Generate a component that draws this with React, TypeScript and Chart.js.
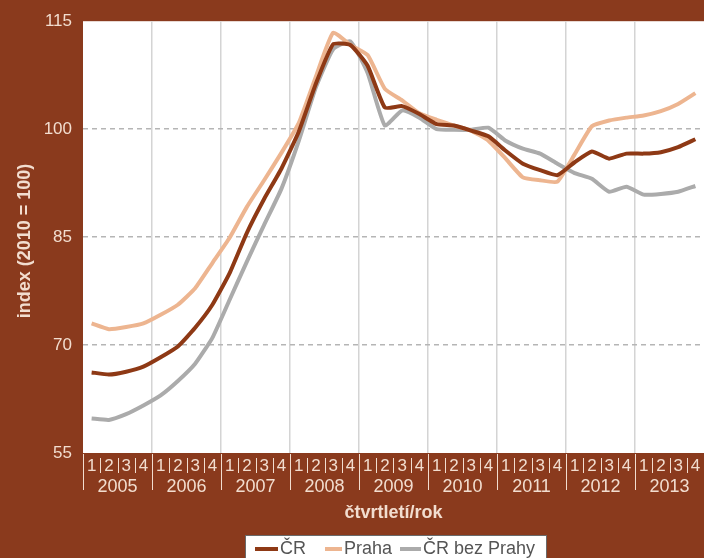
import React, { useEffect, useRef } from 'react';
import { Chart, registerables } from 'chart.js';

Chart.register(...registerables);

const years = ['2005', '2006', '2007', '2008', '2009', '2010', '2011', '2012', '2013'];
const quarters = ['1', '2', '3', '4'];
const categories = years.flatMap(() => quarters);

const yTicks = [55, 70, 85, 100, 115];

const cr = [
  66.2, 65.9, 66.3, 67.0,
  68.3, 69.8, 72.4, 75.6,
  80.0, 85.6, 90.3, 94.5,
  99.6, 106.3, 111.8, 111.7,
  108.8, 103.0, 103.2, 102.1,
  100.7, 100.5, 99.8, 99.0,
  97.0, 95.2, 94.3, 93.6,
  95.4, 96.9, 95.9, 96.6,
  96.6, 96.8, 97.5, 98.6,
];
const praha = [
  73.0, 72.2, 72.5, 73.0,
  74.2, 75.6, 77.9, 81.4,
  84.9, 89.2, 92.9, 96.7,
  100.8, 107.3, 113.4, 111.7,
  110.3, 105.6, 104.0, 102.2,
  101.3, 100.5, 99.8, 98.4,
  95.9, 93.3, 92.9, 92.7,
  96.5, 100.4, 101.2, 101.6,
  101.9, 102.5, 103.5, 105.0,
];
const crBezPrahy = [
  59.8, 59.6, 60.4, 61.6,
  63.0, 65.0, 67.4, 71.0,
  76.3, 81.6, 86.7, 91.7,
  98.3, 105.8, 111.1, 112.2,
  107.8, 100.5, 102.6, 101.6,
  100.0, 99.9, 99.9, 100.2,
  98.4, 97.3, 96.6, 95.2,
  93.9, 93.1, 91.3, 92.0,
  90.9, 91.0, 91.3, 92.1,
];

const seriesNames = ['ČR', 'Praha', 'ČR bez Prahy'];
const seriesColors = ['#8E3915', '#EDB590', '#ABABAB'];

const BG = '#8A3A1D';
const TXT = '#F2DDCF';
const FONT = '"Liberation Sans", Arial, sans-serif';

const decor = {
  id: 'decor',
  beforeDraw(chart: any) {
    const { ctx, chartArea: a, width, height } = chart;
    ctx.save();
    ctx.fillStyle = BG;
    ctx.fillRect(0, 0, width, height);
    ctx.fillStyle = '#ffffff';
    ctx.fillRect(a.left, a.top, a.right - a.left, a.bottom - a.top);
    ctx.restore();
  },
  afterDraw(chart: any) {
    const { ctx, chartArea: a } = chart;
    const xs = chart.scales.x;
    const n = categories.length;
    const step = xs.getPixelForValue(1) - xs.getPixelForValue(0);
    ctx.save();
    // separators
    ctx.strokeStyle = TXT;
    ctx.lineWidth = 1;
    for (let i = 0; i <= n; i++) {
      const bx = Math.round(xs.getPixelForValue(Math.min(i, n - 1)) + (i === n ? step / 2 : -step / 2)) + 0.5;
      ctx.beginPath();
      if (i % 4 === 0) {
        ctx.moveTo(bx, a.bottom + 1);
        ctx.lineTo(bx, a.bottom + 37);
      } else {
        ctx.moveTo(bx, a.bottom + 5);
        ctx.lineTo(bx, a.bottom + 20);
      }
      ctx.stroke();
    }
    // years
    ctx.fillStyle = TXT;
    ctx.font = `18px ${FONT}`;
    ctx.textAlign = 'center';
    ctx.textBaseline = 'middle';
    years.forEach((y, k) => {
      const cx = (xs.getPixelForValue(4 * k) + xs.getPixelForValue(4 * k + 3)) / 2;
      ctx.fillText(y, cx, a.bottom + 34);
    });
    // x title
    ctx.font = `bold 18px ${FONT}`;
    ctx.fillText('čtvrtletí/rok', (a.left + a.right) / 2, 513);
    // y title
    ctx.save();
    ctx.translate(25, 241);
    ctx.rotate(-Math.PI / 2);
    ctx.fillText('index (2010 = 100)', 0, 0);
    ctx.restore();
    // legend
    const lx = 245, ly = 535;
    ctx.fillStyle = '#ffffff';
    ctx.fillRect(lx, ly, 302, 30);
    ctx.strokeStyle = '#6a6a6a';
    ctx.lineWidth = 1;
    ctx.strokeRect(lx + 0.5, ly + 0.5, 301, 30);
    const items = [
      { sx: 255, ex: 278, tx: 280 },
      { sx: 325, ex: 342, tx: 344 },
      { sx: 400, ex: 421, tx: 423 },
    ];
    ctx.font = `18px ${FONT}`;
    ctx.textAlign = 'left';
    ctx.textBaseline = 'middle';
    items.forEach((it, i) => {
      ctx.strokeStyle = seriesColors[i];
      ctx.lineWidth = 4;
      ctx.beginPath();
      ctx.moveTo(it.sx, 549);
      ctx.lineTo(it.ex, 549);
      ctx.stroke();
      ctx.fillStyle = '#555555';
      ctx.fillText(seriesNames[i], it.tx, 549);
    });
    ctx.restore();
  },
};

export default function App() {
  const ref = useRef<HTMLCanvasElement>(null);
  useEffect(() => {
    document.body.style.margin = '0';
    const canvas = ref.current!;
    const chart = new Chart(canvas, {
      type: 'line',
      data: {
        labels: categories,
        datasets: [cr, praha, crBezPrahy].map((d, i) => ({
          label: seriesNames[i],
          data: d,
          borderColor: seriesColors[i],
          backgroundColor: seriesColors[i],
          borderWidth: 4,
          pointRadius: 0,
          tension: 0.15,
          fill: false,
        })),
      },
      options: {
        animation: false,
        responsive: false,
        devicePixelRatio: 1,
        layout: { padding: { top: 18, right: 0, left: 0, bottom: 0 } },
        plugins: { legend: { display: false }, tooltip: { enabled: false } },
        scales: {
          x: {
            type: 'category',
            offset: true,
            grid: {
              offset: true,
              drawTicks: false,
              lineWidth: 1.5,
              color: (c: any) => (c.index % 4 === 0 && c.index > 0 ? '#d4d4d4' : 'rgba(0,0,0,0)'),
            },
            border: { display: false },
            ticks: {
              color: TXT,
              font: { size: 17, family: FONT },
              padding: 3,
              autoSkip: false,
              maxRotation: 0,
              minRotation: 0,
            },
            afterFit: (s: any) => { s.height = 105; },
          },
          y: {
            min: 55,
            max: 115,
            afterBuildTicks: (s: any) => { s.ticks = yTicks.map((v) => ({ value: v })); },
            grid: {
              drawTicks: false,
              lineWidth: 1.5,
              color: (c: any) => (c.tick && (c.tick.value === 55 || c.tick.value === 115) ? 'rgba(0,0,0,0)' : '#b5b5b5'),
            },
            border: { display: false, dash: [5, 4] },
            ticks: {
              color: TXT,
              font: { size: 17, family: FONT },
              padding: 11,
            },
            afterFit: (s: any) => { s.width = 83; },
          },
        },
      },
      plugins: [decor],
    });
    return () => chart.destroy();
  }, []);
  return <canvas ref={ref} width={704} height={558} style={{ display: 'block' }} />;
}
